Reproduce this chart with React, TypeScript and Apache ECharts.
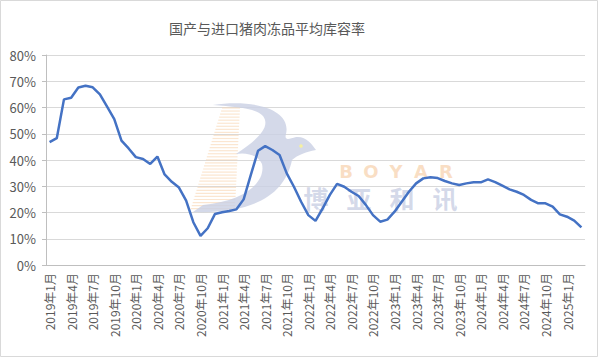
import React, { useEffect, useRef } from "react";
import * as echarts from "echarts";

const title = "国产与进口猪肉冻品平均库容率";

// 2019年1月 … 2025年3月 (75 months)
const startYear = 2019;
const monthCount = 75;
const categories: string[] = [];
for (let i = 0; i < monthCount; i++) {
  const y = startYear + Math.floor(i / 12);
  const m = (i % 12) + 1;
  categories.push(`${y}年${m}月`);
}

// average storage capacity rate (%)
const storageRate: number[] = [
  46.8, 48.3, 63.1, 63.7, 67.6, 68.3, 67.7, 65.0, 60.3, 55.6, 47.4, 44.4,
  41.1, 40.4, 38.5, 41.3, 34.5, 31.7, 29.5, 24.5, 16.3, 11.1, 14.0, 19.4,
  20.1, 20.6, 21.2, 25.0, 34.3, 43.5, 45.3, 43.8, 41.9, 34.9, 29.8, 24.1,
  19.0, 16.8, 21.6, 26.7, 30.9, 29.8, 27.9, 26.3, 22.9, 19.0, 16.5, 17.3,
  20.3, 24.1, 27.9, 31.1, 33.0, 33.4, 33.1, 32.0, 31.1, 30.5, 31.1, 31.5,
  31.5, 32.6, 31.6, 30.2, 28.8, 27.9, 26.7, 24.8, 23.5, 23.5, 22.2, 19.3,
  18.4, 16.9, 14.3,
];

const yTicks = { min: 0, max: 80, interval: 10 };

const watermarkLatin = ["B", "O", "Y", "A", "R"];
const watermarkCjk = ["博", "亚", "和", "讯"];

const logoPath =
  "M 213 105 C 250 99 292 108 286 134 C 284 141 289 139 296 137 C 306 136 312 144 316 150 " +
  "C 305 152 298 155 292 160 C 285 194 255 214 193 212 L 203 205 C 245 201 266 182 262 164 " +
  "C 258 155 246 152 236 154 C 254 142 272 128 263 116 C 256 108 236 107 213 105 Z";

let logoRegistered = false;

export default function App() {
  const ref = useRef<HTMLDivElement>(null);
  useEffect(() => {
    if (!ref.current) return;
    if (!logoRegistered) {
      echarts.graphic.registerShape("logo", echarts.graphic.extendPath(logoPath, {}) as any);
      logoRegistered = true;
    }
    const chart = echarts.init(ref.current, null, { renderer: "svg" });

    const deco: any[] = [];
    for (let k = 0; k < 34; k++) {
      const y = 108 + k * 3.05;
      const x1 = 222 - (y - 108) * 0.31;
      const x2 = 240 - (y - 108) * 0.05;
      deco.push({
        type: "line",
        shape: { x1, y1: y, x2, y2: y },
        style: { stroke: "#f9d6b3", lineWidth: 1.2, opacity: 0.6 },
        silent: true,
        z: 1,
      });
    }
    watermarkLatin.forEach((ch, i) => {
      deco.push({
        type: "text",
        x: 346 + i * 25,
        y: 171,
        style: {
          text: ch,
          textAlign: "center",
          textVerticalAlign: "middle",
          fontFamily: "DejaVu Sans",
          fontSize: 18,
          fontWeight: "bold",
          fill: "#f8d9ba",
          opacity: 0.85,
        },
        silent: true,
        z: 1,
      });
    });
    watermarkCjk.forEach((ch, i) => {
      deco.push({
        type: "text",
        x: 316 + i * 43,
        y: 198,
        style: {
          text: ch,
          textAlign: "center",
          textVerticalAlign: "middle",
          fontFamily: "Noto Sans CJK SC",
          fontSize: 25,
          fontWeight: "bold",
          fill: "#cdd2e6",
          opacity: 0.85,
        },
        silent: true,
        z: 1,
      });
    });

    chart.setOption({
      animation: false,
      backgroundColor: "#ffffff",
      title: {
        text: title,
        left: 262,
        top: 16,
        textAlign: "center",
        textStyle: {
          fontFamily: "Noto Sans CJK SC",
          fontSize: 14,
          fontWeight: "normal",
          color: "#595959",
        },
      },
      grid: { left: 46, right: 14, top: 55, bottom: 93, containLabel: false },
      xAxis: {
        type: "category",
        data: categories,
        boundaryGap: true,
        axisLine: { lineStyle: { color: "#bfbfbf", width: 1 } },
        axisTick: { interval: 2, length: 5, lineStyle: { color: "#bfbfbf" } },
        axisLabel: {
          interval: 2,
          rotate: 90,
          margin: 8,
          fontFamily: "Noto Sans CJK SC",
          fontSize: 12,
          color: "#595959",
        },
        splitLine: { show: false },
      },
      yAxis: {
        type: "value",
        min: yTicks.min,
        max: yTicks.max,
        interval: yTicks.interval,
        axisLine: { show: true, lineStyle: { color: "#bfbfbf", width: 1 } },
        axisTick: { show: true, length: 4, lineStyle: { color: "#bfbfbf" } },
        axisLabel: {
          formatter: "{value}%",
          margin: 10,
          fontFamily: "Noto Sans CJK SC",
          fontSize: 13,
          color: "#595959",
        },
        splitLine: { lineStyle: { color: "#d9d9d9", width: 1 } },
      },
      graphic: [
        {
          type: "rect",
          shape: { x: 0.5, y: 0.5, width: 597, height: 356 },
          style: { fill: "none", stroke: "#d9d9d9", lineWidth: 1 },
          silent: true,
          z: 0,
        },
        ...deco,
        {
          type: "logo",
          x: 0,
          y: 0,
          style: { fill: "#c9cfe4", opacity: 0.8 },
          silent: true,
          z: 1,
        },
        {
          type: "circle",
          shape: { cx: 301, cy: 146, r: 1.8 },
          style: { fill: "#f5f0a0" },
          silent: true,
          z: 1,
        },
      ],
      series: [
        {
          type: "line",
          data: storageRate,
          symbol: "none",
          smooth: false,
          lineStyle: { color: "#4472c4", width: 2.5 },
          z: 5,
        },
      ],
    });
    return () => chart.dispose();
  }, []);
  return (
    <div
      ref={ref}
      style={{ position: "fixed", left: 0, top: 0, width: 599, height: 358 }}
    />
  );
}
